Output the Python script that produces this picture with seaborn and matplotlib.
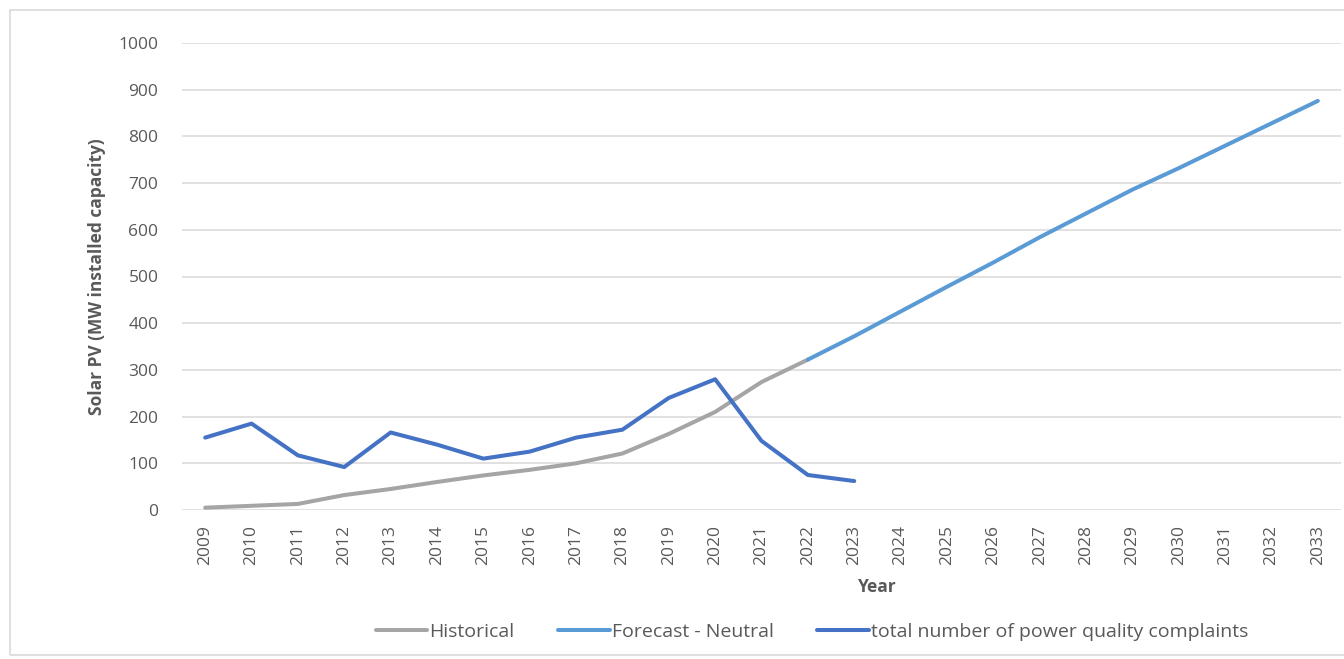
import matplotlib
matplotlib.use("Agg")
import matplotlib.pyplot as plt
from matplotlib.patches import Rectangle
import seaborn as sns
import pandas as pd

# Solar PV installed capacity (MW) and power quality complaints by year
hist_years = list(range(2009, 2023))
hist_values = [5, 9, 13, 32, 45, 60, 74, 86, 100, 121, 163, 210, 274, 322]

forecast_years = list(range(2022, 2034))
forecast_values = [322, 372, 425, 478, 530, 584, 635, 686, 732, 780, 828, 876]

complaint_years = list(range(2009, 2024))
complaint_values = [155, 185, 117, 92, 166, 140, 110, 125, 155, 172, 240, 280, 148, 75, 62]

year_ticks = list(range(2009, 2034))
y_ticks = list(range(0, 1001, 100))

series_colors = {
    "Historical": "#A5A5A5",
    "Forecast - Neutral": "#5B9BD5",
    "total number of power quality complaints": "#4472C4",
}

sns.set_theme(style="white")
plt.rcParams["font.family"] = ["Open Sans", "DejaVu Sans"]

fig = plt.figure(figsize=(13.44, 6.59), dpi=100)
ax = fig.add_axes([182 / 1344, 1 - 510 / 659, 1159 / 1344, 467 / 659])

frames = [
    ("Historical", hist_years, hist_values),
    ("Forecast - Neutral", forecast_years, forecast_values),
    ("total number of power quality complaints", complaint_years, complaint_values),
]
for name, yrs, vals in frames:
    df = pd.DataFrame({"Year": yrs, "Value": vals})
    sns.lineplot(data=df, x="Year", y="Value", ax=ax, color=series_colors[name],
                 linewidth=2.9, label=name, solid_capstyle="round", zorder=3)

ax.set_xlim(2008.5, 2033.5)
ax.set_ylim(0, 1000)
ax.set_xticks(year_ticks)
ax.set_xticklabels([str(y) for y in year_ticks], rotation=90)
ax.set_yticks(y_ticks)
ax.tick_params(axis="both", length=0, labelsize=12.5, labelcolor="#595959")
ax.tick_params(axis="y", pad=17)
ax.tick_params(axis="x", pad=11)

ax.grid(axis="y", color="#D9D9D9", linewidth=1.1)
ax.grid(axis="x", visible=False)
for side in ["left", "right", "top", "bottom"]:
    ax.spines[side].set_visible(False)

ax.set_ylabel("Solar PV (MW installed capacity)", fontsize=12.5, fontweight="bold", color="#595959")
ax.yaxis.set_label_coords(-0.066, 0.5)
ax.set_xlabel("Year", fontsize=12.5, fontweight="bold", color="#595959")
ax.xaxis.set_label_coords(0.6, -0.145)

ax.get_legend().remove()
handles, labels = ax.get_legend_handles_labels()
leg = fig.legend(handles, labels, loc="center", bbox_to_anchor=(812 / 1344, 1 - 632 / 659),
                 ncol=3, frameon=False, fontsize=14, handlelength=2.65, handletextpad=0.1,
                 columnspacing=2.25)
for t in leg.get_texts():
    t.set_color("#595959")

fig.patches.append(Rectangle((10 / 1344, 1 - 655 / 659), 1340 / 1344, 645 / 659,
                             transform=fig.transFigure, fill=False,
                             edgecolor="#D9D9D9", linewidth=1.2))

fig.savefig("out.png", dpi=100, facecolor="white")
